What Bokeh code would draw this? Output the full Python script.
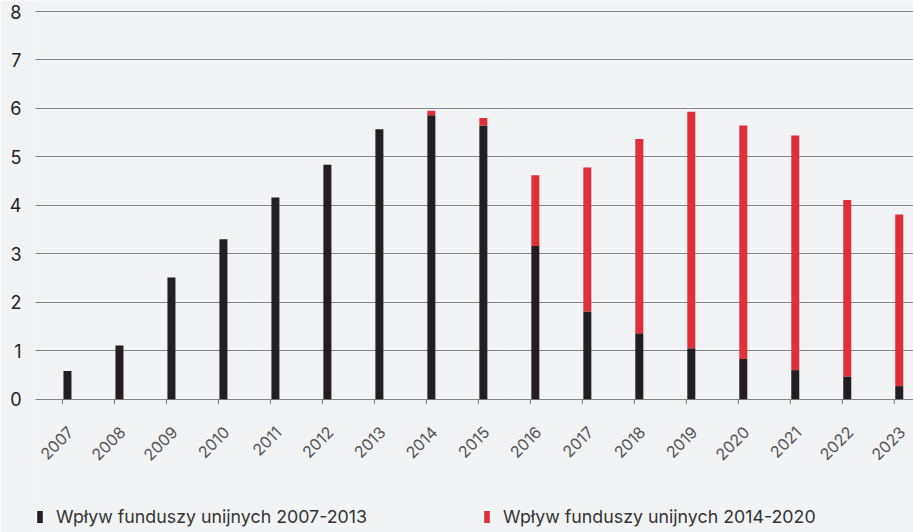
from bokeh.plotting import figure
from bokeh.models import Range1d, FixedTicker, Legend, LegendItem, ColumnDataSource
from bokeh.core.properties import value
from bokeh.embed import file_html
from bokeh.resources import INLINE
import math

years = ["2007", "2008", "2009", "2010", "2011", "2012", "2013", "2014", "2015",
         "2016", "2017", "2018", "2019", "2020", "2021", "2022", "2023"]
funds_2007_2013 = [0.58, 1.11, 2.51, 3.30, 4.16, 4.84, 5.57, 5.86, 5.65,
                   3.16, 1.81, 1.36, 1.05, 0.83, 0.60, 0.47, 0.27]
funds_2014_2020 = [0.0, 0.0, 0.0, 0.0, 0.0, 0.0, 0.0, 0.09, 0.15,
                   1.46, 2.97, 4.01, 4.88, 4.82, 4.84, 3.64, 3.54]
y_ticks = [0, 1, 2, 3, 4, 5, 6, 7, 8]
label_a = "Wpływ funduszy unijnych 2007-2013"
label_b = "Wpływ funduszy unijnych 2014-2020"

BG = "#f2f3f5"
BLACK = "#231f20"
RED = "#df2f3b"
FONT = "Inter"

idx = list(range(len(years)))
bar_off = 0.096
xpos = [i + bar_off for i in idx]
top_b = [a + b for a, b in zip(funds_2007_2013, funds_2014_2020)]

src = ColumnDataSource(dict(x=xpos, a=funds_2007_2013, bb=funds_2007_2013, tb=top_b))
lab_src = ColumnDataSource(dict(x=idx, y=[0] * len(idx), t=years))

# frame spans the whole height; area below zero holds the year labels and legend
p = figure(width=913, height=532, output_backend="svg", toolbar_location=None,
           x_range=Range1d(-0.519, 16.37), y_range=Range1d(-2.751, 8.227),
           min_border_left=35, min_border_right=0, min_border_top=0, min_border_bottom=0)
p.background_fill_color = BG
p.border_fill_color = BG
p.outline_line_color = None
p.xaxis.visible = False

# small category tick marks below the zero line
p.segment(x0=idx, y0=[0] * len(idx), x1=idx, y1=[-0.1] * len(idx),
          line_color="#777777", line_width=1)

ra = p.vbar(x="x", width=0.154, bottom=0, top="a", source=src, fill_color=BLACK, line_color=None)
rb = p.vbar(x="x", width=0.154, bottom="bb", top="tb", source=src, fill_color=RED, line_color=None)

p.text(x="x", y="y", text="t", source=lab_src, angle=math.pi / 4,
       x_offset=8, y_offset=30, text_align="right", text_baseline="middle",
       text_font=value(FONT), text_font_size="16px", text_color="#555555")

p.xgrid.grid_line_color = None
p.ygrid.grid_line_color = "#1a1a1a"
p.ygrid.grid_line_dash = "1 1"
p.ygrid.grid_line_width = 1
p.ygrid.ticker = FixedTicker(ticks=y_ticks)
p.ygrid.level = "underlay"

p.yaxis.ticker = FixedTicker(ticks=y_ticks)
p.yaxis.axis_line_color = None
p.yaxis.major_tick_line_color = None
p.yaxis.minor_tick_line_color = None
p.yaxis.major_tick_out = 0
p.yaxis.major_tick_in = 0
p.yaxis.major_label_standoff = 14
p.yaxis.major_label_text_font = FONT
p.yaxis.major_label_text_font_size = "18px"
p.yaxis.major_label_text_color = "#222222"
p.yaxis.major_label_text_baseline = "top"

legend = Legend(items=[LegendItem(label=label_a, renderers=[ra]),
                       LegendItem(label=label_b, renderers=[rb])],
                orientation="horizontal", location=(1, 5),
                glyph_width=7, glyph_height=15, label_standoff=13, spacing=116,
                padding=0, margin=0,
                label_text_font=FONT, label_text_font_size="17.8px", label_text_color="#333333",
                background_fill_alpha=0, border_line_color=None)
p.add_layout(legend, "center")

html = file_html(p, INLINE)
html = html.replace("<body>", '<body style="background:%s">' % BG, 1)
open("out.html", "w").write(html)
